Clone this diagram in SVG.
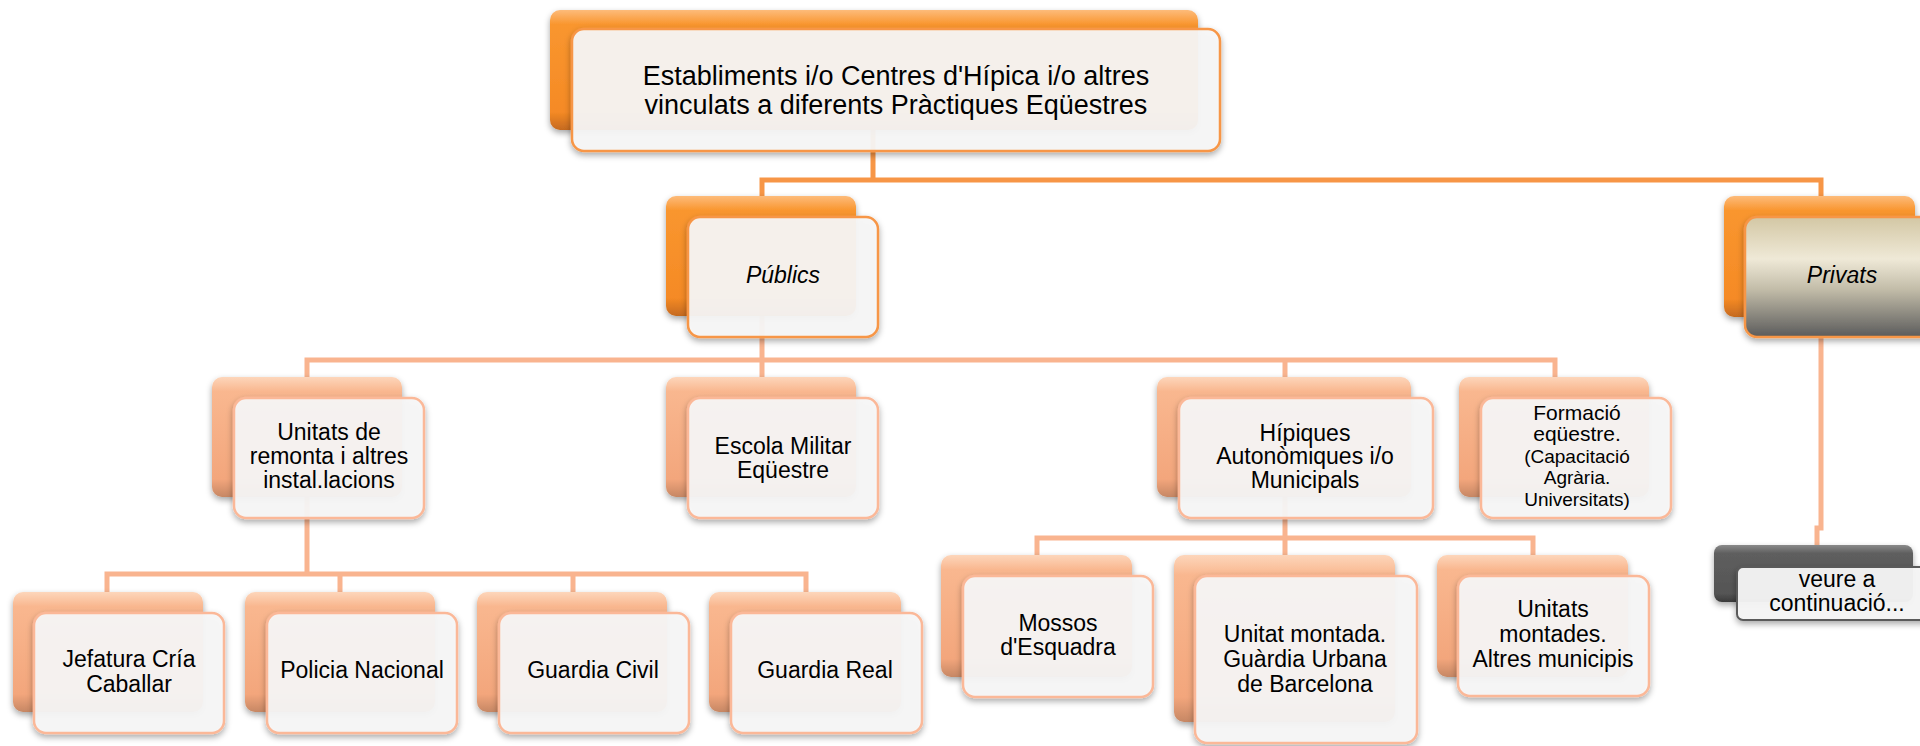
<svg xmlns="http://www.w3.org/2000/svg" width="1920" height="746" viewBox="0 0 1920 746">
<defs>
<linearGradient id="gOr" x1="0" y1="0" x2="0" y2="1">
<stop offset="0" stop-color="#fdbb7a"/><stop offset="0.12" stop-color="#f9962f"/><stop offset="0.85" stop-color="#f58a25"/><stop offset="1" stop-color="#c56a1f"/>
</linearGradient>
<linearGradient id="gSa" x1="0" y1="0" x2="0" y2="1">
<stop offset="0" stop-color="#fdd6bb"/><stop offset="0.12" stop-color="#f9b78f"/><stop offset="0.85" stop-color="#f3a67c"/><stop offset="1" stop-color="#c68764"/>
</linearGradient>
<linearGradient id="gGr" x1="0" y1="0" x2="0" y2="1">
<stop offset="0" stop-color="#8a8a8a"/><stop offset="0.15" stop-color="#5e5e5e"/><stop offset="0.85" stop-color="#555555"/><stop offset="1" stop-color="#3a3a3a"/>
</linearGradient>
<linearGradient id="gPr" x1="0" y1="0" x2="0" y2="1">
<stop offset="0" stop-color="#d3c7a4"/><stop offset="0.35" stop-color="#efe9d7"/><stop offset="0.6" stop-color="#c3bda9"/><stop offset="1" stop-color="#5b5b5b"/>
</linearGradient>
<filter id="sh" x="-10%" y="-10%" width="125%" height="130%">
<feDropShadow dx="0" dy="3" stdDeviation="3" flood-color="#000" flood-opacity="0.35"/>
</filter>
</defs>
<style>
.bo{fill:url(#gOr);filter:url(#sh)}
.bs{fill:url(#gSa);filter:url(#sh)}
.bg{fill:url(#gGr);filter:url(#sh)}
.fo{fill:#f7f7f7;fill-opacity:0.93;stroke:#f79646;stroke-width:2.5;filter:url(#sh)}
.fs{fill:#f7f7f7;fill-opacity:0.93;stroke:#fbb898;stroke-width:2.5;filter:url(#sh)}
.fg{fill:#f5f5f5;fill-opacity:0.95;stroke:#5a5a5a;stroke-width:2;filter:url(#sh)}
.fp{fill:url(#gPr);stroke:#f79646;stroke-width:2.5;filter:url(#sh)}
text{font-family:"Liberation Sans",Arial,sans-serif;fill:#000;text-anchor:middle}
.t{font-size:23px}
.tm{font-size:21px}
.ts{font-size:19px}
.ti{font-size:23px;font-style:italic}
.tt{font-size:27px}
.c1{fill:none;stroke:#f79646;stroke-width:5}
.c2{fill:none;stroke:#f9b48f;stroke-width:5}
</style>
<g id="connectors">
<path class="c1" d="M873,130 V180 M762,196 V180 H1821 V196"/>
<path class="c2" d="M762,316 V377 M307,377 V360 H1555 V377 M1285,360 V377"/>
<path class="c2" d="M307,497 V574 M107,592 V574 H806 V592 M340,574 V592 M573,574 V592"/>
<path class="c2" d="M1285,497 V538 M1037,555 V538 H1533 V555 M1285,538 V555"/>
<path class="c2" d="M1821,316 V528 H1817 V545"/>
</g>
<g id="root">
<rect class="bo" x="550" y="10" width="648" height="120" rx="10"/>
<rect class="fo" x="572" y="29" width="648" height="122" rx="12"/>
<text class="tt" x="896" y="85">Establiments i/o Centres d'Hípica i/o altres</text>
<text class="tt" x="896" y="114">vinculats a diferents Pràctiques Eqüestres</text>
</g>
<g id="publics">
<rect class="bo" x="666" y="196" width="190" height="120" rx="10"/>
<rect class="fo" x="688" y="217" width="190" height="120" rx="12"/>
<text class="ti" x="783" y="283">Públics</text>
</g>
<g id="privats">
<rect class="bo" x="1724" y="196" width="191" height="121" rx="10"/>
<rect class="fp" x="1745" y="217" width="192" height="120" rx="12"/>
<text class="ti" x="1842" y="283">Privats</text>
</g>
<g id="unitats">
<rect class="bs" x="212" y="377" width="190" height="120" rx="10"/>
<rect class="fs" x="234" y="398" width="190" height="120" rx="12"/>
<text class="t" x="329" y="440">Unitats de</text>
<text class="t" x="329" y="464">remonta i altres</text>
<text class="t" x="329" y="488">instal.lacions</text>
</g>
<g id="escola">
<rect class="bs" x="666" y="377" width="190" height="120" rx="10"/>
<rect class="fs" x="688" y="398" width="190" height="120" rx="12"/>
<text class="t" x="783" y="454">Escola Militar</text>
<text class="t" x="783" y="478">Eqüestre</text>
</g>
<g id="hipiques">
<rect class="bs" x="1157" y="377" width="254" height="120" rx="10"/>
<rect class="fs" x="1179" y="398" width="254" height="120" rx="12"/>
<text class="t" x="1305" y="441">Hípiques</text>
<text class="t" x="1305" y="464">Autonòmiques i/o</text>
<text class="t" x="1305" y="488">Municipals</text>
</g>
<g id="formacio">
<rect class="bs" x="1459" y="377" width="190" height="120" rx="10"/>
<rect class="fs" x="1481" y="398" width="190" height="120" rx="12"/>
<text class="tm" x="1577" y="420">Formació</text>
<text class="tm" x="1577" y="441">eqüestre.</text>
<text class="ts" x="1577" y="463">(Capacitació</text>
<text class="ts" x="1577" y="484">Agrària.</text>
<text class="ts" x="1577" y="506">Universitats)</text>
</g>
<g id="jefatura">
<rect class="bs" x="13" y="592" width="190" height="120" rx="10"/>
<rect class="fs" x="34" y="613" width="190" height="120" rx="12"/>
<text class="t" x="129" y="667">Jefatura Cría</text>
<text class="t" x="129" y="692">Caballar</text>
</g>
<g id="policia">
<rect class="bs" x="245" y="592" width="190" height="120" rx="10"/>
<rect class="fs" x="267" y="613" width="190" height="120" rx="12"/>
<text class="t" x="362" y="678">Policia Nacional</text>
</g>
<g id="civil">
<rect class="bs" x="477" y="592" width="190" height="120" rx="10"/>
<rect class="fs" x="499" y="613" width="190" height="120" rx="12"/>
<text class="t" x="593" y="678">Guardia Civil</text>
</g>
<g id="real">
<rect class="bs" x="709" y="592" width="192" height="120" rx="10"/>
<rect class="fs" x="731" y="613" width="191" height="120" rx="12"/>
<text class="t" x="825" y="678">Guardia Real</text>
</g>
<g id="mossos">
<rect class="bs" x="941" y="555" width="191" height="122" rx="10"/>
<rect class="fs" x="963" y="576" width="190" height="121" rx="12"/>
<text class="t" x="1058" y="631">Mossos</text>
<text class="t" x="1058" y="655">d'Esquadra</text>
</g>
<g id="urbana">
<rect class="bs" x="1174" y="555" width="221" height="167" rx="10"/>
<rect class="fs" x="1195" y="576" width="222" height="167" rx="12"/>
<text class="t" x="1305" y="642">Unitat montada.</text>
<text class="t" x="1305" y="667">Guàrdia Urbana</text>
<text class="t" x="1305" y="692">de Barcelona</text>
</g>
<g id="altres">
<rect class="bs" x="1437" y="555" width="191" height="122" rx="10"/>
<rect class="fs" x="1458" y="576" width="191" height="120" rx="12"/>
<text class="t" x="1553" y="617">Unitats</text>
<text class="t" x="1553" y="642">montades.</text>
<text class="t" x="1553" y="667">Altres municipis</text>
</g>
<g id="veure">
<rect class="bg" x="1714" y="545" width="199" height="57" rx="8"/>
<rect class="fg" x="1737" y="567" width="200" height="53" rx="6"/>
<text class="t" x="1837" y="587">veure a</text>
<text class="t" x="1837" y="611">continuació...</text>
</g>
</svg>
